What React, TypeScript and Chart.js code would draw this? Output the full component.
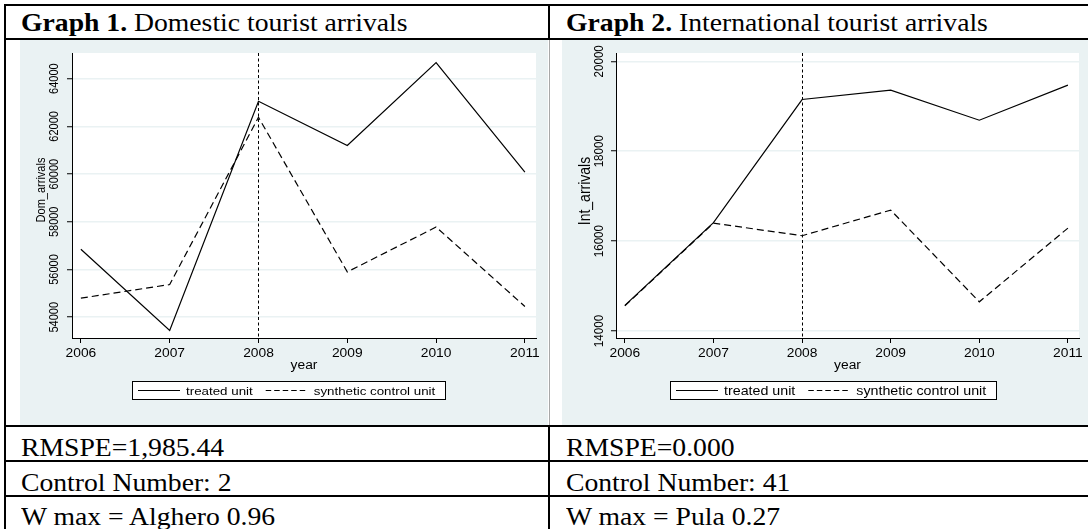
import React, { useEffect, useRef } from "react";
import { Chart, registerables } from "chart.js";

Chart.register(...registerables);

// ---- data ----
const years = [2006, 2007, 2008, 2009, 2010, 2011];
const yearLabels = ["2006", "2007", "2008", "2009", "2010", "2011"];
const treatmentYear = 2008;
const seriesNames = ["treated unit", "synthetic control unit"];

const domTreated = [56850, 53450, 63050, 61200, 64670, 60080];
const domSynthetic = [54800, 55370, 62380, 55900, 57780, 54450];
const domTicks = [54000, 56000, 58000, 60000, 62000, 64000];

const intTreated = [14570, 16410, 19150, 19360, 18690, 19470];
const intSynthetic = [14560, 16400, 16120, 16690, 14650, 16290];
const intTicks = [14000, 16000, 18000, 20000];

const panelTitles = ["Domestic tourist arrivals", "International tourist arrivals"];
const panelNumbers = ["Graph 1.", "Graph 2."];
const rmspeRow = ["RMSPE=1,985.44", "RMSPE=0.000"];
const controlRow = ["Control Number: 2", "Control Number: 41"];
const wMaxRow = ["W max = Alghero 0.96", "W max = Pula 0.27"];

// ---- styling ----
const BG = "#eaf2f3";
const SANS = '"Liberation Sans", Arial, Helvetica, sans-serif';
const SERIF = '"Liberation Serif", "Times New Roman", serif';
const SX = 1.15; // horizontal text stretch used inside the graphs

type PanelCfg = {
  left: number;
  width: number;
  treated: number[];
  synthetic: number[];
  ticks: number[];
  yMin: number;
  yMax: number;
  yTitle: string;
  padRight: number;
  yAxisWidth: number;
  yLabelX: number;
  yLabelFont: number;
  yTitleX: number;
  yTitleY: number;
  yTitleFont: number;
  legendLeft: number;
  legendFont: number;
};

const panels: PanelCfg[] = [
  {
    left: 20,
    width: 528,
    treated: domTreated,
    synthetic: domSynthetic,
    ticks: domTicks,
    yMin: 53130,
    yMax: 65075,
    yTitle: "Dom_arrivals",
    padRight: 12,
    yAxisWidth: 52,
    yLabelX: 37.5,
    yLabelFont: 11,
    yTitleX: 25,
    yTitleY: 150,
    yTitleFont: 11,
    legendLeft: 112,
    legendFont: 11.6,
  },
  {
    left: 562,
    width: 526,
    treated: intTreated,
    synthetic: intSynthetic,
    ticks: intTicks,
    yMin: 13845,
    yMax: 20185,
    yTitle: "Int_arrivals",
    padRight: 9,
    yAxisWidth: 54,
    yLabelX: 41.3,
    yLabelFont: 11.6,
    yTitleX: 27.5,
    yTitleY: 151,
    yTitleFont: 14,
    legendLeft: 108,
    legendFont: 12.4,
  },
];

const CANVAS_H = 385;
const X_MIN = 2005.9;
const X_MAX = 2011.125;

function text(
  ctx: CanvasRenderingContext2D,
  s: string,
  x: number,
  y: number,
  font: string,
  align: CanvasTextAlign,
  rotate = false
) {
  ctx.save();
  ctx.translate(x, y);
  ctx.scale(SX, 1);
  if (rotate) ctx.rotate(-Math.PI / 2);
  ctx.font = font;
  ctx.textAlign = align;
  ctx.textBaseline = "alphabetic";
  ctx.fillStyle = "#000";
  ctx.fillText(s, 0, 0);
  ctx.restore();
}

function makePlugin(p: PanelCfg) {
  return {
    id: "stataPanel",
    beforeDraw(chart: any) {
      const { ctx, chartArea: a, width, height } = chart;
      ctx.save();
      ctx.fillStyle = BG;
      ctx.fillRect(0, 0, width, height);
      ctx.fillStyle = "#fff";
      ctx.fillRect(a.left, a.top, a.right - a.left, a.bottom - a.top);
      ctx.restore();
    },
    beforeDatasetsDraw(chart: any) {
      const { ctx, chartArea: a } = chart;
      const x = Math.round(chart.scales.x.getPixelForValue(treatmentYear)) + 0.5;
      ctx.save();
      ctx.strokeStyle = "#000";
      ctx.lineWidth = 1;
      ctx.setLineDash([3, 2.5]);
      ctx.beginPath();
      ctx.moveTo(x, a.top);
      ctx.lineTo(x, a.bottom);
      ctx.stroke();
      ctx.restore();
    },
    afterDraw(chart: any) {
      const { ctx, chartArea: a } = chart;
      const xs = chart.scales.x;
      const ys = chart.scales.y;

      // y tick labels, rotated
      p.ticks.forEach((v) => {
        text(ctx, String(v), p.yLabelX, ys.getPixelForValue(v), `${p.yLabelFont}px ${SANS}`, "center", true);
      });
      // y title
      text(ctx, p.yTitle, p.yTitleX, p.yTitleY, `${p.yTitleFont}px ${SANS}`, "center", true);
      // x tick labels
      years.forEach((yr, i) => {
        text(ctx, yearLabels[i], xs.getPixelForValue(yr), 317, `12px ${SANS}`, "center");
      });
      // x title
      text(ctx, "year", (a.left + a.right) / 2, 329, `12px ${SANS}`, "center");

      // legend
      const font = `${p.legendFont}px ${SANS}`;
      ctx.save();
      ctx.font = font;
      const w0 = ctx.measureText(seriesNames[0]).width * SX;
      const w1 = ctx.measureText(seriesNames[1]).width * SX;
      ctx.restore();
      const sample = 42;
      const L = p.legendLeft;
      const T = 341;
      const H = 18;
      const W = 6 + sample + 6 + w0 + 13 + sample + 6 + w1 + 10;
      ctx.save();
      ctx.fillStyle = "#fff";
      ctx.fillRect(L, T, W, H);
      ctx.strokeStyle = "#000";
      ctx.lineWidth = 1;
      ctx.strokeRect(L + 0.5, T + 0.5, Math.round(W), H);
      const ly = T + 9.5;
      let cx = L + 6;
      ctx.lineWidth = 1.1;
      ctx.beginPath();
      ctx.moveTo(cx, ly);
      ctx.lineTo(cx + sample, ly);
      ctx.stroke();
      cx += sample + 6;
      ctx.restore();
      text(ctx, seriesNames[0], cx, T + 13.5, font, "left");
      cx += w0 + 13;
      ctx.save();
      ctx.strokeStyle = "#000";
      ctx.lineWidth = 1.1;
      ctx.setLineDash([5.5, 3]);
      ctx.beginPath();
      ctx.moveTo(cx, ly);
      ctx.lineTo(cx + sample, ly);
      ctx.stroke();
      ctx.restore();
      cx += sample + 6;
      text(ctx, seriesNames[1], cx, T + 13.5, font, "left");
    },
  };
}

function Panel({ p }: { p: PanelCfg }) {
  const ref = useRef<HTMLCanvasElement | null>(null);
  useEffect(() => {
    if (!ref.current) return;
    const chart = new Chart(ref.current, {
      type: "line",
      data: {
        datasets: [
          {
            label: seriesNames[0],
            data: years.map((x, i) => ({ x, y: p.treated[i] })),
            borderColor: "#000",
            borderWidth: 1.2,
            pointRadius: 0,
            tension: 0,
            fill: false,
          },
          {
            label: seriesNames[1],
            data: years.map((x, i) => ({ x, y: p.synthetic[i] })),
            borderColor: "#000",
            borderWidth: 1.2,
            borderDash: [7, 4],
            pointRadius: 0,
            tension: 0,
            fill: false,
          },
        ],
      },
      options: {
        animation: false,
        responsive: false,
        maintainAspectRatio: false,
        devicePixelRatio: 1,
        layout: { padding: { top: 13, right: p.padRight, left: 0, bottom: 0 } },
        plugins: { legend: { display: false }, tooltip: { enabled: false } },
        scales: {
          x: {
            type: "linear",
            min: X_MIN,
            max: X_MAX,
            afterBuildTicks: (s: any) => {
              s.ticks = years.map((v) => ({ value: v }));
            },
            afterFit: (s: any) => {
              s.height = 87;
            },
            ticks: { display: false },
            grid: { drawOnChartArea: false, tickLength: 5, tickColor: "#000", tickWidth: 1 },
            border: { color: "#000", width: 1 },
          },
          y: {
            type: "linear",
            min: p.yMin,
            max: p.yMax,
            afterBuildTicks: (s: any) => {
              s.ticks = p.ticks.map((v) => ({ value: v }));
            },
            afterFit: (s: any) => {
              s.width = p.yAxisWidth;
            },
            ticks: { display: false },
            grid: { color: BG, lineWidth: 1.5, tickLength: 5, tickColor: "#000", tickWidth: 1 },
            border: { color: "#000", width: 1 },
          },
        },
      } as any,
      plugins: [makePlugin(p)],
    });
    return () => chart.destroy();
  }, [p]);
  return (
    <canvas
      ref={ref}
      width={p.width}
      height={CANVAS_H}
      style={{ position: "absolute", left: p.left, top: 40, width: p.width, height: CANVAS_H }}
    />
  );
}

const line = (left: number, top: number, width: number, height: number, color = "#000") => (
  <div style={{ position: "absolute", left, top, width, height, background: color }} />
);

const cellText = (left: number, top: number, content: React.ReactNode) => (
  <div
    style={{
      position: "absolute",
      left,
      top,
      font: `25.5px ${SERIF}`,
      lineHeight: "25.5px",
      whiteSpace: "nowrap",
      transform: "scaleX(1.085)",
      transformOrigin: "0 0",
      color: "#000",
    }}
  >
    {content}
  </div>
);

export default function App() {
  const colX = [20.7, 565.7];
  return (
    <div
      style={{
        position: "absolute",
        left: 0,
        top: 0,
        width: 1088,
        height: 529,
        overflow: "hidden",
        background: "#fff",
      }}
    >
      {panels.map((p, i) => (
        <Panel key={i} p={p} />
      ))}
      {/* table rules */}
      {line(4, 4, 1084, 2)}
      {line(4, 38, 1084, 2)}
      {line(4, 425, 1084, 2)}
      {line(4, 460, 1084, 2)}
      {line(4, 495, 1084, 2)}
      {line(4, 4, 2, 525)}
      {line(548, 4, 2, 36)}
      {line(549, 40, 1, 385, "#a8a8a8")}
      {line(548, 425, 2, 104)}
      {/* cell texts */}
      {colX.map((x, i) => (
        <React.Fragment key={i}>
          {cellText(x, 10.35, (
            <>
              <b>{panelNumbers[i]}</b> {panelTitles[i]}
            </>
          ))}
          {cellText(x, 435.35, rmspeRow[i])}
          {cellText(x, 469.65, controlRow[i])}
          {cellText(x, 503.65, wMaxRow[i])}
        </React.Fragment>
      ))}
    </div>
  );
}
